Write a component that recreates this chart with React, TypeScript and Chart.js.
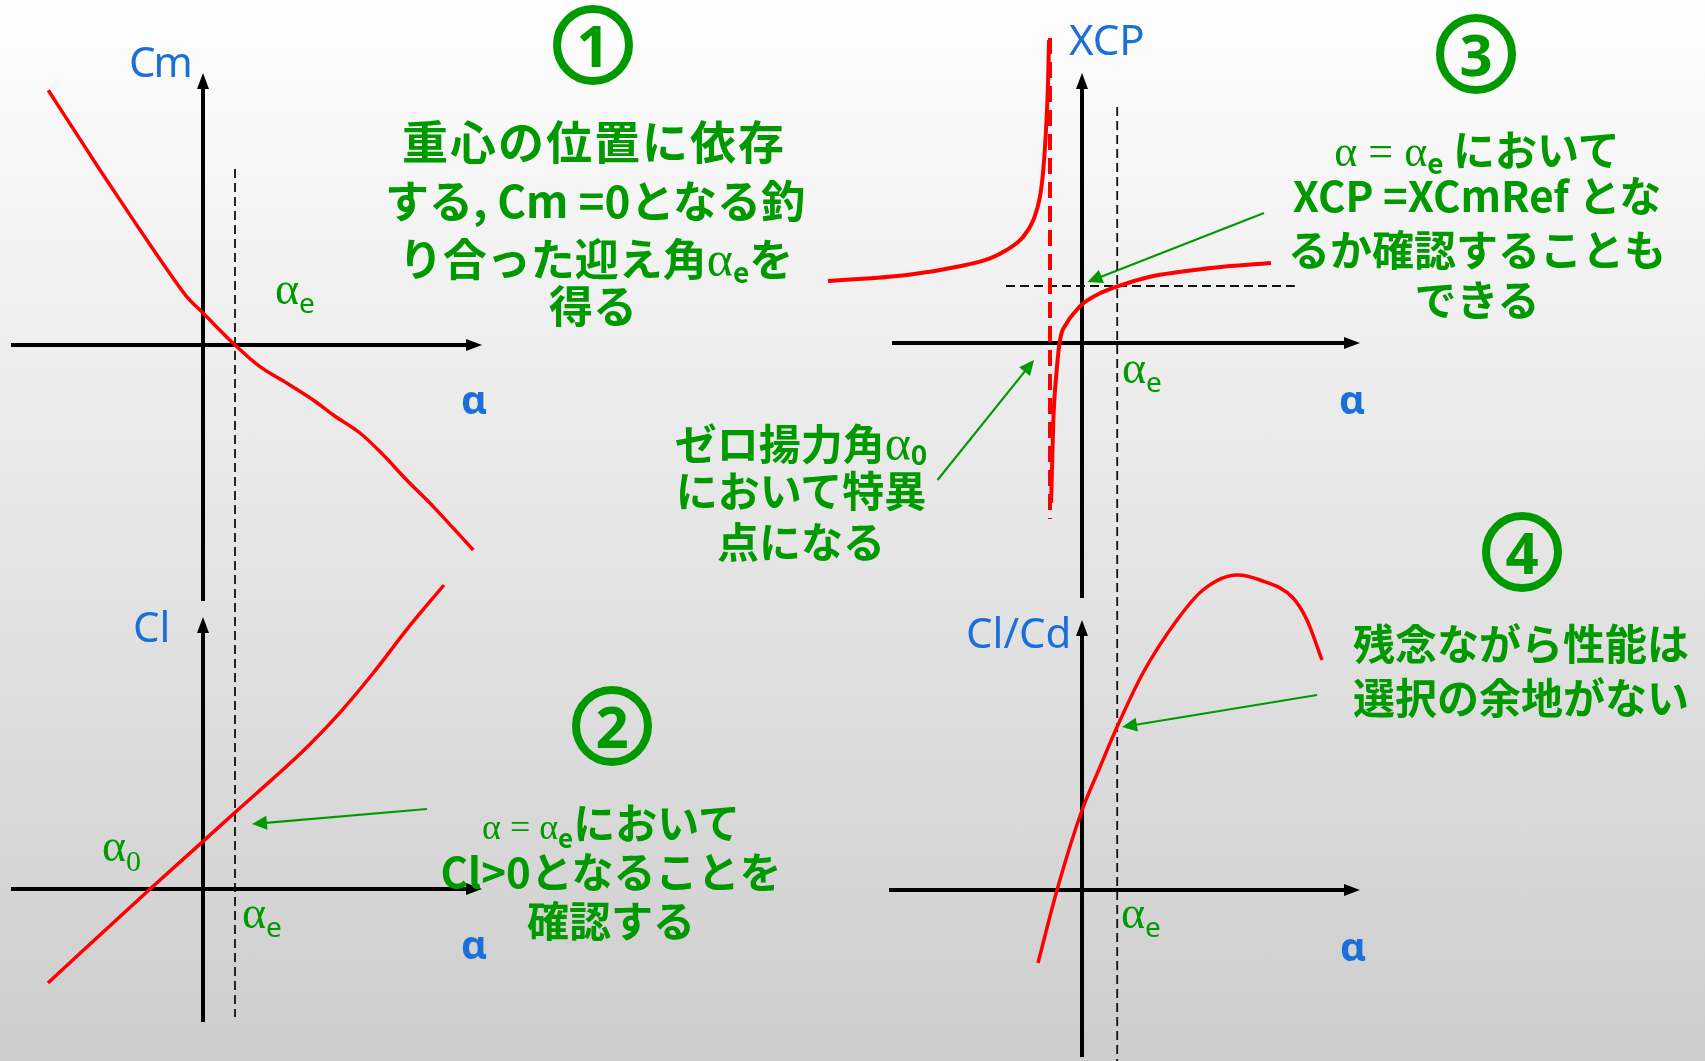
import React, { useEffect, useRef } from "react";
import { Chart, registerables } from "chart.js";

Chart.register(...registerables);

// ---------- data ----------
// ① pitching moment coefficient Cm against angle of attack α [deg]
const cmAlpha = [-9.67, -6.44, -4.38, -2.27, -1.02, 0, 2.0, 3.56, 5.23, 6.89, 8.14, 9.81, 11.06, 12.73, 14.39, 16.89];
const cmValues = [1.274, 0.875, 0.628, 0.38, 0.242, 0.16, 0, -0.1085, -0.19, -0.275, -0.35, -0.44, -0.533, -0.675, -0.808, -1.025];

// ② lift coefficient Cl against α
const clAlpha = [-9.69, -3.31, 0, 2.31, 4.39, 6.48, 8.56, 10.64, 12.73, 15.06];
const clValues = [-0.47, 0, 0.238, 0.405, 0.553, 0.708, 0.882, 1.08, 1.297, 1.52];

// ③ centre of pressure XCP against α, two branches either side of α0
const xcpLeftAlpha = [-15.875, -10.94, -7.56, -5.75, -4.71, -3.67, -3.04, -2.625, -2.42, -2.25, -2.13, -2.06];
const xcpLeftValues = [0.31, 0.34, 0.385, 0.4235, 0.465, 0.5315, 0.615, 0.7315, 0.865, 1.065, 1.2815, 1.515];
const xcpRightAlpha = [-1.93, -1.79, -1.58, -1.375, -0.96, -0.33, 0.08, 1.125, 2.17, 4.25, 8.06, 11.81];
const xcpRightValues = [-0.8, -0.385, -0.135, 0.015, 0.0985, 0.165, 0.1985, 0.2485, 0.2815, 0.3315, 0.375, 0.4];
const xcmRef = 0.285;
const xcmRefSpan = [-4.75, 13.3];
const alphaZero = -2.0;
const alphaZeroSpan = [1.525, -0.88];

// ④ lift-to-drag ratio Cl/Cd against α
const ldAlpha = [-2.75, -1.56, -0.06, 1.125, 2.19, 3.81, 5.94, 7.56, 9.69, 11.125, 13.19, 14.06, 15.0];
const ldValues = [-7.3, 0, 7.7, 12.3, 16.3, 21.7, 27.0, 30.0, 31.5, 31.0, 29.2, 27.0, 23.0];

// trim angle α_e and the extent of its guide lines
const alphaTrimLeft = 2.0;
const trimLeftSpan = [0.88, -3.36]; // in Cm units, runs down through the Cl panel
const alphaTrimRight = 2.2;
const trimRightSpan = [1.18, -3.59]; // in XCP units, runs down through the Cl/Cd panel

// axis extents [from, to]
const cmAxisAlpha = [-12.0, 17.44];
const cmAxisValue = [-1.28, 1.36];
const clAxisAlpha = [-12.0, 17.44];
const clAxisValue = [-0.665, 1.36];
const xcpAxisAlpha = [-11.875, 17.375];
const xcpAxisValue = [-1.275, 1.35];
const ldAxisAlpha = [-12.06, 17.375];
const ldAxisValue = [-16.7, 27.0];

// call-out arrows [[fromα, fromY], [toα, toY]]
const clCallout = [[14.0, 0.4], [3.06, 0.325]];
const xcpCallout = [[11.375, 0.65], [0.34, 0.305]];
const zeroLiftCallout = [[-9.03, -0.685], [-3.0, -0.085]];
const ldCallout = [[14.69, 19.5], [2.5, 16.3]];

// ---------- layout ----------
const W = 1705;
const H = 1061;
const PX_PER_DEG = 16;
const LEFT_ORIGIN_X = 203;
const RIGHT_ORIGIN_X = 1082;

const GREEN = "#009900";
const BLUE = "#1a6fd8";
const RED = "#ff0000";
const JP = "'Noto Sans CJK JP', 'Noto Sans', sans-serif";
const SERIF = "'Liberation Serif', 'DejaVu Serif', serif";
const SANS = "'Noto Sans', 'DejaVu Sans', sans-serif";

const pts = (xs: number[], ys: number[]) => xs.map((x, i) => ({ x, y: ys[i] }));

function yScale(originY: number, pxPerUnit: number) {
  return {
    type: "linear" as const,
    display: false,
    bounds: "data" as const,
    min: -(H - originY) / pxPerUnit,
    max: originY / pxPerUnit,
  };
}
function xScale(originX: number) {
  return {
    type: "linear" as const,
    display: false,
    bounds: "data" as const,
    min: -originX / PX_PER_DEG,
    max: (W - originX) / PX_PER_DEG,
  };
}

function curve(data: { x: number; y: number }[], xAxisID: string, yAxisID: string, width: number) {
  return {
    data,
    xAxisID,
    yAxisID,
    showLine: true,
    borderColor: RED,
    borderWidth: width,
    pointRadius: 0,
    cubicInterpolationMode: "monotone" as const,
  };
}
function dashed(data: { x: number; y: number }[], xAxisID: string, yAxisID: string, color: string, width: number, dash: number[]) {
  return {
    data,
    xAxisID,
    yAxisID,
    showLine: true,
    borderColor: color,
    borderWidth: width,
    borderDash: dash,
    pointRadius: 0,
    tension: 0,
  };
}
function arrow(seg: number[][], xAxisID: string, yAxisID: string, color: string, width: number, head: number, half: number) {
  return {
    data: seg.map(([x, y]) => ({ x, y })),
    xAxisID,
    yAxisID,
    showLine: false,
    pointRadius: 0,
    arrow: { color, width, head, half },
  };
}
function hAxis(span: number[], xAxisID: string, yAxisID: string) {
  return arrow([[span[0], 0], [span[1], 0]], xAxisID, yAxisID, "#000", 4, 16, 6);
}
function vAxis(span: number[], xAxisID: string, yAxisID: string) {
  return arrow([[0, span[0]], [0, span[1]]], xAxisID, yAxisID, "#000", 4, 16, 6);
}

// draws shafts and filled heads for datasets carrying an `arrow` style
const arrowPlugin = {
  id: "arrowShafts",
  beforeDatasetsDraw(chart: any) {
    const ctx: CanvasRenderingContext2D = chart.ctx;
    chart.data.datasets.forEach((ds: any) => {
      if (!ds.arrow) return;
      const xs = chart.scales[ds.xAxisID];
      const ys = chart.scales[ds.yAxisID];
      const p = ds.data.map((d: any) => [xs.getPixelForValue(d.x), ys.getPixelForValue(d.y)]);
      const [x0, y0] = p[0];
      const [x1, y1] = p[p.length - 1];
      const len = Math.hypot(x1 - x0, y1 - y0);
      const ux = (x1 - x0) / len;
      const uy = (y1 - y0) / len;
      const { color, width, head, half } = ds.arrow;
      const bx = x1 - ux * head;
      const by = y1 - uy * head;
      ctx.save();
      ctx.strokeStyle = color;
      ctx.lineWidth = width;
      ctx.beginPath();
      ctx.moveTo(x0, y0);
      ctx.lineTo(bx + ux, by + uy);
      ctx.stroke();
      ctx.fillStyle = color;
      ctx.beginPath();
      ctx.moveTo(x1, y1);
      ctx.lineTo(bx - uy * half, by + ux * half);
      ctx.lineTo(bx + uy * half, by - ux * half);
      ctx.closePath();
      ctx.fill();
      ctx.restore();
    });
  },
};

// ---------- text helpers ----------
function TextLine(props: { cx: number; cy: number; fs: number; ls?: number; children: React.ReactNode }) {
  const { cx, cy, fs, ls = 0, children } = props;
  return (
    <div
      style={{
        position: "absolute",
        left: cx,
        top: cy - 0.556 * fs,
        transform: "translateX(-50%)",
        whiteSpace: "nowrap",
        fontFamily: JP,
        fontWeight: 700,
        fontSize: fs,
        lineHeight: `${fs}px`,
        letterSpacing: ls,
        color: GREEN,
      }}
    >
      {children}
    </div>
  );
}
function Greek(props: { size: number; children: React.ReactNode }) {
  return (
    <span style={{ fontFamily: SERIF, fontWeight: 400, fontSize: props.size, lineHeight: 0, letterSpacing: 0 }}>
      {props.children}
    </span>
  );
}
function Sub(props: { size: number; drop: number; serif?: boolean; light?: boolean; children: React.ReactNode }) {
  return (
    <span
      style={{
        fontFamily: props.serif ? SERIF : props.light ? SANS : JP,
        fontWeight: props.light || props.serif ? 400 : 700,
        fontSize: props.size,
        lineHeight: 0,
        verticalAlign: -props.drop,
        letterSpacing: 0,
      }}
    >
      {props.children}
    </span>
  );
}
// α with a subscript, placed by its left edge and baseline
function AlphaSub(props: { left: number; baseline: number; sub: string; serifSub?: boolean }) {
  const fs = 46;
  return (
    <div
      style={{
        position: "absolute",
        left: props.left,
        top: props.baseline - 0.8375 * fs,
        whiteSpace: "nowrap",
        fontFamily: SERIF,
        fontSize: fs,
        lineHeight: `${fs}px`,
        color: GREEN,
      }}
    >
      α
      {props.serifSub ? (
        <Sub size={30} drop={10} serif>
          {props.sub}
        </Sub>
      ) : (
        <Sub size={28} drop={9} light>
          {props.sub}
        </Sub>
      )}
    </div>
  );
}
function BlueLabel(props: { left: number; baseline: number; fs: number; bold?: boolean; ls?: number; children: React.ReactNode }) {
  return (
    <div
      style={{
        position: "absolute",
        left: props.left,
        top: props.baseline - 0.888 * props.fs,
        whiteSpace: "nowrap",
        fontFamily: SANS,
        fontWeight: props.bold ? 700 : 400,
        fontSize: props.fs,
        lineHeight: `${props.fs}px`,
        letterSpacing: props.ls ?? 0,
        color: BLUE,
      }}
    >
      {props.children}
    </div>
  );
}
function Badge(props: { cx: number; cy: number; n: string }) {
  return (
    <div
      style={{
        position: "absolute",
        left: props.cx - 40,
        top: props.cy - 40,
        width: 80,
        height: 80,
        boxSizing: "border-box",
        border: `8px solid ${GREEN}`,
        borderRadius: "50%",
        display: "flex",
        alignItems: "center",
        justifyContent: "center",
        fontFamily: SANS,
        fontWeight: 700,
        fontSize: 58,
        lineHeight: "58px",
        color: GREEN,
      }}
    >
      {props.n}
    </div>
  );
}

export default function App() {
  const ref = useRef<HTMLCanvasElement>(null);

  useEffect(() => {
    if (!ref.current) return;
    const chart = new Chart(ref.current, {
      type: "scatter",
      data: {
        datasets: [
          curve(pts(cmAlpha, cmValues), "xL", "yCm", 3.5),
          curve(pts(clAlpha, clValues), "xL", "yCl", 3.5),
          curve(pts(xcpLeftAlpha, xcpLeftValues), "xR", "yXcp", 4),
          curve(pts(xcpRightAlpha, xcpRightValues), "xR", "yXcp", 4),
          curve(pts(ldAlpha, ldValues), "xR", "yLd", 3.5),
          dashed(pts([alphaZero, alphaZero], alphaZeroSpan), "xR", "yXcp", RED, 4, [16, 8]),
          dashed(pts([alphaTrimLeft, alphaTrimLeft], trimLeftSpan), "xL", "yCm", "#111", 1.8, [9, 5]),
          dashed(pts([alphaTrimRight, alphaTrimRight], trimRightSpan), "xR", "yXcp", "#111", 1.8, [9, 5]),
          dashed(pts(xcmRefSpan, [xcmRef, xcmRef]), "xR", "yXcp", "#111", 1.8, [9, 5]),
          hAxis(cmAxisAlpha, "xL", "yCm"),
          vAxis(cmAxisValue, "xL", "yCm"),
          hAxis(clAxisAlpha, "xL", "yCl"),
          vAxis(clAxisValue, "xL", "yCl"),
          hAxis(xcpAxisAlpha, "xR", "yXcp"),
          vAxis(xcpAxisValue, "xR", "yXcp"),
          hAxis(ldAxisAlpha, "xR", "yLd"),
          vAxis(ldAxisValue, "xR", "yLd"),
          arrow(clCallout, "xL", "yCl", GREEN, 2.2, 15, 7),
          arrow(xcpCallout, "xR", "yXcp", GREEN, 2.2, 15, 7),
          arrow(zeroLiftCallout, "xR", "yXcp", GREEN, 2.2, 15, 7),
          arrow(ldCallout, "xR", "yLd", GREEN, 2.2, 15, 7),
        ] as any,
      },
      options: {
        responsive: false,
        maintainAspectRatio: false,
        animation: false,
        events: [],
        layout: { padding: 0 },
        plugins: { legend: { display: false }, tooltip: { enabled: false } },
        scales: {
          xL: xScale(LEFT_ORIGIN_X),
          xR: xScale(RIGHT_ORIGIN_X),
          yCm: yScale(345, 200),
          yCl: yScale(889, 200),
          yXcp: yScale(343, 200),
          yLd: yScale(890, 10),
        } as any,
      },
      plugins: [arrowPlugin],
    });
    return () => chart.destroy();
  }, []);

  return (
    <div
      style={{
        position: "absolute",
        left: 0,
        top: 0,
        width: W,
        height: H,
        overflow: "hidden",
        background: "linear-gradient(to bottom, #fefefe 0%, #cdcdcd 100%)",
      }}
    >
      <canvas ref={ref} width={W} height={H} style={{ position: "absolute", left: 0, top: 0 }} />

      {/* axis names */}
      <BlueLabel left={129} baseline={77} fs={42} ls={-2}>Cm</BlueLabel>
      <BlueLabel left={133} baseline={642} fs={42}>Cl</BlueLabel>
      <BlueLabel left={1069} baseline={55} fs={42}>XCP</BlueLabel>
      <BlueLabel left={966} baseline={648} fs={42}>Cl/Cd</BlueLabel>
      <BlueLabel left={461} baseline={415} fs={40} bold>α</BlueLabel>
      <BlueLabel left={461} baseline={960} fs={40} bold>α</BlueLabel>
      <BlueLabel left={1339} baseline={415} fs={40} bold>α</BlueLabel>
      <BlueLabel left={1340} baseline={962} fs={40} bold>α</BlueLabel>

      {/* α markers */}
      <AlphaSub left={275} baseline={305} sub="e" />
      <AlphaSub left={242} baseline={929} sub="e" />
      <AlphaSub left={102} baseline={862} sub="0" serifSub />
      <AlphaSub left={1122} baseline={384} sub="e" />
      <AlphaSub left={1121} baseline={929} sub="e" />

      {/* ① */}
      <Badge cx={593} cy={45} n="1" />
      <TextLine cx={594} cy={142} fs={46} ls={2}>重心の位置に依存</TextLine>
      <TextLine cx={595} cy={201} fs={44}>する, Cm =0となる釣</TextLine>
      <TextLine cx={596} cy={259} fs={44}>
        り合った迎え角<Greek size={50}>α</Greek>
        <Sub size={28} drop={7}>e</Sub>を
      </TextLine>
      <TextLine cx={593} cy={306} fs={44}>得る</TextLine>

      {/* ② */}
      <Badge cx={612} cy={726} n="2" />
      <TextLine cx={611} cy={823} fs={42}>
        <Greek size={36}>α = α</Greek>
        <Sub size={26} drop={9}>e</Sub>において
      </TextLine>
      <TextLine cx={611} cy={872} fs={42}>Cl&gt;0となることを</TextLine>
      <TextLine cx={611} cy={921} fs={42}>確認する</TextLine>

      {/* ③ */}
      <Badge cx={1476} cy={54} n="3" />
      <TextLine cx={1477} cy={150} fs={42}>
        <Greek size={44}>α = α</Greek>
        <Sub size={28} drop={8}>e</Sub> において
      </TextLine>
      <TextLine cx={1477} cy={196} fs={42}>XCP =XCmRef とな</TextLine>
      <TextLine cx={1477} cy={250} fs={42}>るか確認することも</TextLine>
      <TextLine cx={1477} cy={300} fs={42}>できる</TextLine>

      {/* zero-lift singularity note */}
      <TextLine cx={801} cy={444} fs={42}>
        ゼロ揚力角<Greek size={50}>α</Greek>
        <Sub size={28} drop={5}>0</Sub>
      </TextLine>
      <TextLine cx={801} cy={491} fs={42}>において特異</TextLine>
      <TextLine cx={801} cy={542} fs={42}>点になる</TextLine>

      {/* ④ */}
      <Badge cx={1522} cy={552} n="4" />
      <TextLine cx={1521} cy={644} fs={42}>残念ながら性能は</TextLine>
      <TextLine cx={1521} cy={698} fs={42}>選択の余地がない</TextLine>
    </div>
  );
}
